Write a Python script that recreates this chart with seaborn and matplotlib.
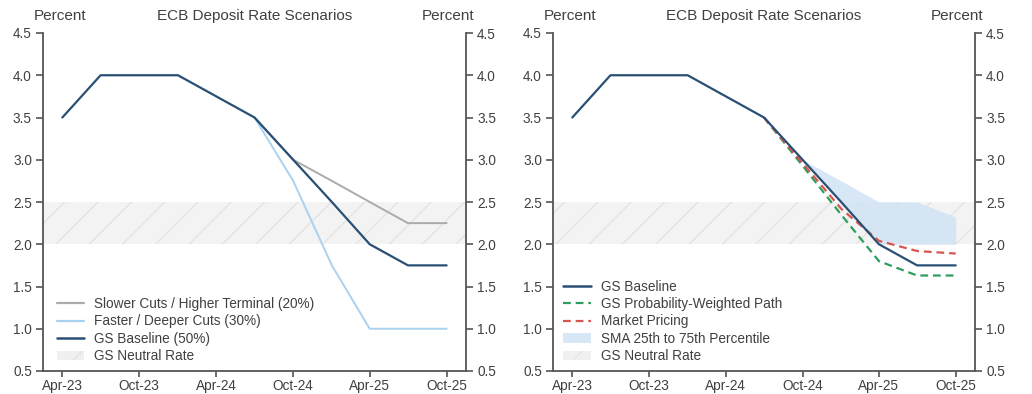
import pandas as pd
import matplotlib
import matplotlib.pyplot as plt
import matplotlib.dates as mdates
import seaborn as sns
from matplotlib.patches import Patch
from matplotlib.lines import Line2D

matplotlib.use('Agg')

# quarterly path of the ECB deposit rate
dates = ["2023-04-01", "2023-07-01", "2023-10-01", "2024-01-01", "2024-04-01", "2024-07-01",
         "2024-10-01", "2025-01-01", "2025-04-01", "2025-07-01", "2025-10-01"]
baseline = [3.5, 4.0, 4.0, 4.0, 3.75, 3.5, 3.0, 2.5, 2.0, 1.75, 1.75]

# scenarios start at Jul-24
scen_dates = dates[5:]
slower = [3.5, 3.0, 2.75, 2.5, 2.25, 2.25]
faster = [3.5, 2.75, 1.75, 1.0, 1.0, 1.0]
prob_weighted = [3.5, 2.93, 2.35, 1.8, 1.63, 1.63]
market = [3.5, 2.96, 2.42, 2.04, 1.92, 1.89]

# SMA survey range from Oct-24
band_dates = dates[6:]
sma_low = [3.0, 2.5, 2.0, 2.0, 2.0]
sma_high = [3.0, 2.75, 2.5, 2.5, 2.32]

neutral_low, neutral_high = 2.0, 2.5

tick_dates = ["2023-04-01", "2023-10-01", "2024-04-01", "2024-10-01", "2025-04-01", "2025-10-01"]

base_df = pd.DataFrame({"date": pd.to_datetime(dates), "rate": baseline})
scen_df = pd.DataFrame({"date": pd.to_datetime(scen_dates), "slower": slower, "faster": faster,
                        "prob": prob_weighted, "market": market})
band_df = pd.DataFrame({"date": pd.to_datetime(band_dates), "low": sma_low, "high": sma_high})

sns.set_style("ticks")
plt.rcParams['font.family'] = ['Liberation Sans', 'DejaVu Sans']
txt = '#404040'
spine = '#555555'

c_base = '#2a4f74'
c_slow = '#ababab'
c_fast = '#a9d2f0'
c_green = '#2e9e5e'
c_red = '#d9534f'
c_band = '#cfe2f3'

fig = plt.figure(figsize=(10.32, 3.94), dpi=100)
ax1 = fig.add_axes([43 / 1032, 23 / 394, 423 / 1032, 338 / 394])
ax2 = fig.add_axes([553 / 1032, 23 / 394, 422 / 1032, 338 / 394])

xmin = pd.Timestamp("2023-02-14")
xmax = pd.Timestamp("2025-11-16")
yticks = [0.5, 1.0, 1.5, 2.0, 2.5, 3.0, 3.5, 4.0, 4.5]
tick_fs = 9.8
leg_fs = 9.8
head_fs = 11


def style_axis(ax):
    ax.axhspan(neutral_low, neutral_high, facecolor='#f3f3f3', edgecolor='#e4e4e4',
               hatch='/', linewidth=0, zorder=0)
    ax.set_xlim(xmin, xmax)
    ax.set_ylim(0.5, 4.5)
    ax.set_yticks(yticks)
    ax.yaxis.set_major_formatter(matplotlib.ticker.FormatStrFormatter('%.1f'))
    ax.set_xticks(pd.to_datetime(tick_dates))
    ax.xaxis.set_major_formatter(mdates.DateFormatter('%b-%y'))
    ax.set_xlabel('')
    ax.set_ylabel('')
    ax.spines['top'].set_visible(False)
    ax.spines['right'].set_visible(False)
    for s in ['left', 'bottom']:
        ax.spines[s].set_color(spine)
        ax.spines[s].set_linewidth(1.3)
    ax.tick_params(axis='y', colors=spine, labelcolor=txt, labelsize=tick_fs, length=5,
                   width=1.2, pad=3)
    ax.tick_params(axis='x', colors=spine, labelcolor=txt, labelsize=tick_fs, length=4,
                   width=1.2, pad=2)

    axr = ax.twinx()
    axr.set_ylim(0.5, 4.5)
    axr.set_yticks(yticks)
    axr.yaxis.set_major_formatter(matplotlib.ticker.FormatStrFormatter('%.1f'))
    for s in ['top', 'left', 'bottom']:
        axr.spines[s].set_visible(False)
    axr.spines['right'].set_color(spine)
    axr.spines['right'].set_linewidth(1.3)
    axr.tick_params(axis='y', colors=spine, labelcolor=txt, labelsize=tick_fs, length=5,
                    width=1.2, pad=3)

    ax.text(0.04, 1.05, "Percent", transform=ax.transAxes, ha='center', va='center',
            fontsize=head_fs, color=txt)
    ax.text(0.5, 1.05, "ECB Deposit Rate Scenarios", transform=ax.transAxes, ha='center',
            va='center', fontsize=head_fs, color=txt)
    ax.text(0.957, 1.05, "Percent", transform=ax.transAxes, ha='center', va='center',
            fontsize=head_fs, color=txt)


# left panel: scenarios
sns.lineplot(data=scen_df, x="date", y="slower", color=c_slow, linewidth=1.4, ax=ax1)
sns.lineplot(data=scen_df, x="date", y="faster", color=c_fast, linewidth=1.4, ax=ax1)
sns.lineplot(data=base_df, x="date", y="rate", color=c_base, linewidth=1.6, ax=ax1)
style_axis(ax1)

handles1 = [Line2D([], [], color=c_slow, lw=1.6), Line2D([], [], color=c_fast, lw=1.6),
            Line2D([], [], color=c_base, lw=1.8),
            Patch(facecolor='#f0f0f0', edgecolor='#e4e4e4', hatch='/', linewidth=0)]
labels1 = ["Slower Cuts / Higher Terminal (20%)", "Faster / Deeper Cuts (30%)",
           "GS Baseline (50%)", "GS Neutral Rate"]
ax1.legend(handles1, labels1, loc='lower left', bbox_to_anchor=(0.003, -0.013), frameon=False,
           fontsize=leg_fs, labelcolor=txt, handlelength=2.05, labelspacing=0.25,
           handletextpad=0.72)

# right panel: probability weighted vs market
ax2.fill_between(band_df["date"], band_df["low"], band_df["high"], color=c_band, alpha=0.8,
                 linewidth=0, zorder=1)
sns.lineplot(data=scen_df, x="date", y="prob", color=c_green, linewidth=1.6, ax=ax2,
             linestyle=(0, (3.5, 2.2)))
sns.lineplot(data=scen_df, x="date", y="market", color=c_red, linewidth=1.6, ax=ax2,
             linestyle=(0, (3.5, 2.2)))
sns.lineplot(data=base_df, x="date", y="rate", color=c_base, linewidth=1.6, ax=ax2)
style_axis(ax2)

handles2 = [Line2D([], [], color=c_base, lw=1.8),
            Line2D([], [], color=c_green, lw=1.6, ls=(0, (3.5, 2.2))),
            Line2D([], [], color=c_red, lw=1.6, ls=(0, (3.5, 2.2))),
            Patch(facecolor=c_band, alpha=0.8, linewidth=0),
            Patch(facecolor='#f0f0f0', edgecolor='#e4e4e4', hatch='/', linewidth=0)]
labels2 = ["GS Baseline", "GS Probability-Weighted Path", "Market Pricing",
           "SMA 25th to 75th Percentile", "GS Neutral Rate"]
ax2.legend(handles2, labels2, loc='lower left', bbox_to_anchor=(-0.005, -0.013), frameon=False,
           fontsize=leg_fs, labelcolor=txt, handlelength=2.05, labelspacing=0.25,
           handletextpad=0.72)

fig.savefig("out.png", dpi=100, facecolor='white')
